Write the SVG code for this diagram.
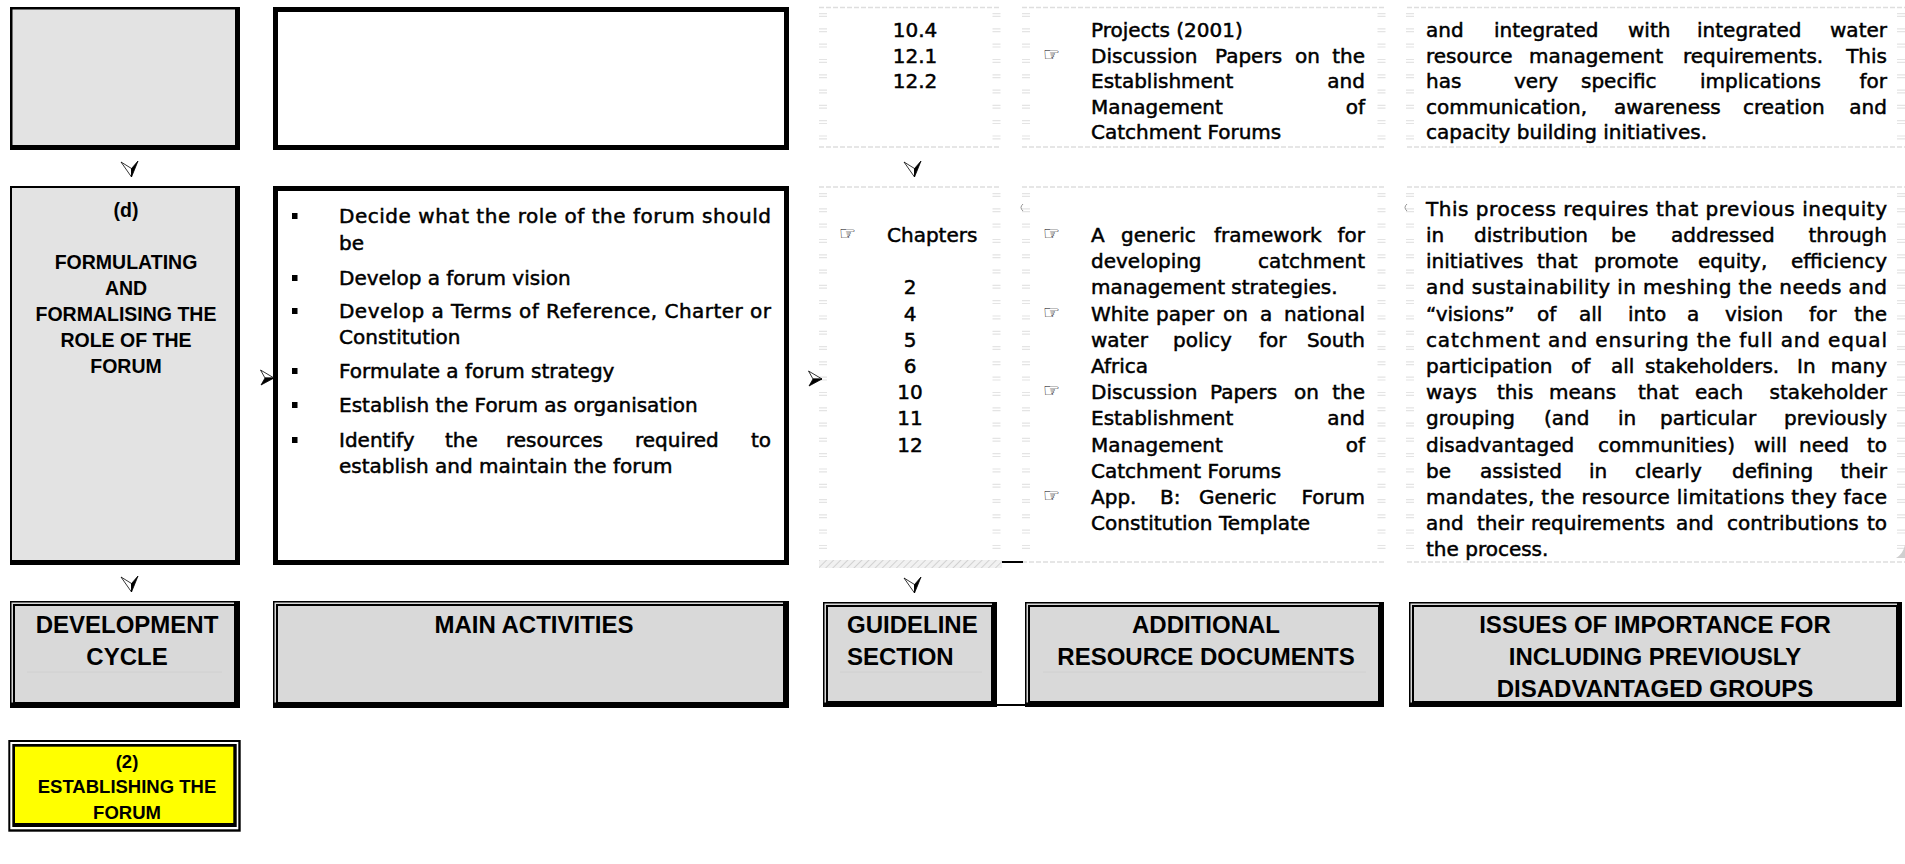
<svg xmlns="http://www.w3.org/2000/svg" width="1905" height="864" viewBox="0 0 1905 864">
<defs>
<style>
.t{font-family:"DejaVu Sans","Noto Sans",sans-serif;font-size:20px;fill:#000;stroke:#000;stroke-width:0.5}
.hd{font-family:"Liberation Sans",Arial,sans-serif;font-weight:bold;font-size:24px;fill:#000}
.st{font-family:"Liberation Sans",Arial,sans-serif;font-weight:bold;font-size:19.5px;fill:#000;text-anchor:middle}
.c{text-anchor:middle}
.e{text-anchor:end}
.hand{font-family:"DejaVu Sans",sans-serif;font-size:19px;fill:#000}
.rule{stroke:#dedede;stroke-width:1.5;stroke-dasharray:5 2;fill:none}
.ticks{stroke:#e4e4e4;stroke-width:8;stroke-dasharray:1.2 1.6 1.2 11.3;fill:none}
.faint{stroke:#d0d0d0;stroke-width:1}
.hfill{fill:#d9d9d9}
</style>
<g id="arrow-down">
  <path d="M-10.5,-15 L0,-8.5 L0,0 Z" fill="#fff" stroke="#000" stroke-width="0.8" stroke-linejoin="round"/>
  <path d="M0,-8.5 L6.5,-16 L0,0 Z" fill="#000" stroke="#000" stroke-width="0.8" stroke-linejoin="round"/>
</g>
<g id="arrow-right">
  <path d="M-13.5,-8 L0,0 L-9,0 Z" fill="#fff" stroke="#000" stroke-width="0.8" stroke-linejoin="round"/>
  <path d="M-9,0 L0,0 L-13,7 Z" fill="#000" stroke="#000" stroke-width="0.8" stroke-linejoin="round"/>
</g>
<pattern id="hatch" width="5" height="5" patternUnits="userSpaceOnUse" patternTransform="rotate(45)">
  <rect width="5" height="5" fill="#f1f1f1"/>
  <line x1="0" y1="0" x2="0" y2="5" stroke="#d2d2d2" stroke-width="2"/>
</pattern>
</defs>

<rect width="1905" height="864" fill="#fff"/>

<!-- stage boxes, development cycle column -->
<g id="stage-prev">
  <rect x="10" y="7" width="230" height="143" fill="#000"/>
  <rect x="12.5" y="9.5" width="222.5" height="135.5" fill="#e3e3e3"/>
</g>
<g id="stage-d">
  <rect x="10" y="186" width="230" height="379" fill="#000"/>
  <rect x="12" y="188" width="223" height="372" fill="#e3e3e3"/>
  <text class="st" x="126" y="217">(d)</text>
  <text class="st" x="126" y="269">FORMULATING</text>
  <text class="st" x="126" y="295">AND</text>
  <text class="st" x="126" y="321">FORMALISING THE</text>
  <text class="st" x="126" y="347">ROLE OF THE</text>
  <text class="st" x="126" y="373">FORUM</text>
</g>

<!-- main activities -->
<g id="activities-prev">
  <rect x="275.5" y="9.5" width="511" height="138" fill="#fff" stroke="#000" stroke-width="5"/>
</g>
<g id="activities-d">
  <rect x="275.5" y="188.5" width="511" height="374" fill="#fff" stroke="#000" stroke-width="5"/>
  <rect x="292" y="213" width="5.5" height="6"/>
  <rect x="292" y="275" width="5.5" height="6"/>
  <rect x="292" y="308" width="5.5" height="6"/>
  <rect x="292" y="368" width="5.5" height="6"/>
  <rect x="292" y="402" width="5.5" height="6"/>
  <rect x="292" y="437" width="5.5" height="6"/>
  <text class="t" x="339" y="223" textLength="432" lengthAdjust="spacing">Decide what the role of the forum should</text>
  <text class="t" x="339" y="250">be</text>
  <text class="t" x="339" y="285">Develop a forum vision</text>
  <text class="t" x="339" y="318" textLength="432" lengthAdjust="spacing">Develop a Terms of Reference, Charter or</text>
  <text class="t" x="339" y="344">Constitution</text>
  <text class="t" x="339" y="378">Formulate a forum strategy</text>
  <text class="t" x="339" y="412">Establish the Forum as organisation</text>
  <text class="t" y="447"><tspan x="339">Identify</tspan><tspan x="445">the</tspan><tspan x="506">resources</tspan><tspan x="635">required</tspan></text>
  <text class="t e" x="771" y="447">to</text>
  <text class="t" x="339" y="473">establish and maintain the forum</text>
</g>

<!-- light table cell frames for the three reference columns -->
<g id="cell-frames">
  <path class="rule" d="M819,7.5H1001 M1022,7.5H1386 M1407,7.5H1905 M819,147H1001 M1022,147H1386 M1407,147H1905 M819,187H1001 M1022,187H1386 M1407,187H1905 M1022,562H1386 M1407,562H1905"/>
  <path class="ticks" d="M823,13V146 M996.5,13V146 M1026,13V146 M1381.5,13V146 M1410,13V146 M1901,13V146"/>
  <path class="ticks" d="M823,193V558 M996.5,193V558 M1026,193V558 M1381.5,193V558 M1410,193V558 M1901,193V558"/>
  <rect x="819" y="560" width="183" height="8" fill="url(#hatch)"/>
  <line x1="1002" y1="562" x2="1023" y2="562" stroke="#000" stroke-width="2"/>
  <path d="M1023,204 Q1019,207.5 1023,211" fill="none" stroke="#888" stroke-width="0.9"/>
  <path d="M1407,204 Q1403,207.5 1407,211" fill="none" stroke="#888" stroke-width="0.9"/>
  <path d="M1905,545 L1905,558 L1896,558 Q1903,554 1905,545 Z" fill="#cfcfcf"/>
</g>

<!-- guideline sections -->
<g id="guideline-prev">
  <text class="t c" x="915" y="37">10.4</text>
  <text class="t c" x="915" y="62.5">12.1</text>
  <text class="t c" x="915" y="88">12.2</text>
</g>
<g id="guideline-d">
  <text class="hand" x="839" y="240">☞</text>
  <text class="t" x="887" y="242">Chapters</text>
  <text class="t c" x="910" y="294.4">2</text>
  <text class="t c" x="910" y="320.6">4</text>
  <text class="t c" x="910" y="346.8">5</text>
  <text class="t c" x="910" y="373">6</text>
  <text class="t c" x="910" y="399.2">10</text>
  <text class="t c" x="910" y="425.4">11</text>
  <text class="t c" x="910" y="451.6">12</text>
</g>

<!-- additional resource documents -->
<g id="resources-prev">
  <text class="t" x="1091" y="37">Projects (2001)</text>
  <text class="hand" x="1043" y="60.5">☞</text>
  <text class="t" y="62.5"><tspan x="1091">Discussion</tspan><tspan x="1215">Papers</tspan><tspan x="1295">on</tspan></text>
  <text class="t e" x="1365" y="62.5">the</text>
  <text class="t" x="1091" y="88">Establishment</text>
  <text class="t e" x="1365" y="88">and</text>
  <text class="t" x="1091" y="113.5">Management</text>
  <text class="t e" x="1365" y="113.5">of</text>
  <text class="t" x="1091" y="139">Catchment Forums</text>
</g>
<g id="resources-d">
  <text class="hand" x="1043" y="240">☞</text>
  <text class="t" y="242"><tspan x="1091">A</tspan><tspan x="1121">generic</tspan><tspan x="1214">framework</tspan></text>
  <text class="t e" x="1365" y="242">for</text>
  <text class="t" x="1091" y="268.2">developing</text>
  <text class="t e" x="1365" y="268.2">catchment</text>
  <text class="t" x="1091" y="294.4">management strategies.</text>
  <text class="hand" x="1043" y="318.6">☞</text>
  <text class="t" y="320.6"><tspan x="1091">White</tspan><tspan x="1156">paper</tspan><tspan x="1223">on</tspan><tspan x="1260">a</tspan></text>
  <text class="t e" x="1365" y="320.6">national</text>
  <text class="t" y="346.8"><tspan x="1091">water</tspan><tspan x="1173">policy</tspan><tspan x="1259">for</tspan></text>
  <text class="t e" x="1365" y="346.8">South</text>
  <text class="t" x="1091" y="373">Africa</text>
  <text class="hand" x="1043" y="397.2">☞</text>
  <text class="t" y="399.2"><tspan x="1091">Discussion</tspan><tspan x="1210">Papers</tspan><tspan x="1294">on</tspan></text>
  <text class="t e" x="1365" y="399.2">the</text>
  <text class="t" x="1091" y="425.4">Establishment</text>
  <text class="t e" x="1365" y="425.4">and</text>
  <text class="t" x="1091" y="451.6">Management</text>
  <text class="t e" x="1365" y="451.6">of</text>
  <text class="t" x="1091" y="477.8">Catchment Forums</text>
  <text class="hand" x="1043" y="502">☞</text>
  <text class="t" y="504"><tspan x="1091">App.</tspan><tspan x="1160">B:</tspan><tspan x="1199">Generic</tspan></text>
  <text class="t e" x="1365" y="504">Forum</text>
  <text class="t" x="1091" y="530.2">Constitution Template</text>
</g>

<!-- issues for previously disadvantaged groups -->
<g id="issues-prev">
  <text class="t" y="37"><tspan x="1426">and</tspan><tspan x="1494">integrated</tspan><tspan x="1628">with</tspan><tspan x="1697">integrated</tspan></text>
  <text class="t e" x="1887" y="37">water</text>
  <text class="t" y="62.5"><tspan x="1426">resource</tspan><tspan x="1529">management</tspan><tspan x="1683">requirements.</tspan></text>
  <text class="t e" x="1887" y="62.5">This</text>
  <text class="t" y="88"><tspan x="1426">has</tspan><tspan x="1514">very</tspan><tspan x="1581">specific</tspan><tspan x="1700">implications</tspan></text>
  <text class="t e" x="1887" y="88">for</text>
  <text class="t" y="113.5"><tspan x="1426">communication,</tspan><tspan x="1614">awareness</tspan><tspan x="1743">creation</tspan></text>
  <text class="t e" x="1887" y="113.5">and</text>
  <text class="t" x="1426" y="139">capacity building initiatives.</text>
</g>
<g id="issues-d">
  <text class="t" x="1426" y="215.8" textLength="461" lengthAdjust="spacing">This process requires that previous inequity</text>
  <text class="t" y="242"><tspan x="1426">in</tspan><tspan x="1474">distribution</tspan><tspan x="1611">be</tspan><tspan x="1671">addressed</tspan></text>
  <text class="t e" x="1887" y="242">through</text>
  <text class="t" y="268.2"><tspan x="1426">initiatives</tspan><tspan x="1537">that</tspan><tspan x="1594">promote</tspan><tspan x="1698">equity,</tspan></text>
  <text class="t e" x="1887" y="268.2">efficiency</text>
  <text class="t" x="1426" y="294.4" textLength="461" lengthAdjust="spacing">and sustainability in meshing the needs and</text>
  <text class="t" y="320.6"><tspan x="1426">“visions”</tspan><tspan x="1537">of</tspan><tspan x="1579">all</tspan><tspan x="1628">into</tspan><tspan x="1687">a</tspan><tspan x="1725">vision</tspan><tspan x="1809">for</tspan></text>
  <text class="t e" x="1887" y="320.6">the</text>
  <text class="t" x="1426" y="346.8" textLength="461" lengthAdjust="spacing">catchment and ensuring the full and equal</text>
  <text class="t" y="373"><tspan x="1426">participation</tspan><tspan x="1571">of</tspan><tspan x="1611">all</tspan><tspan x="1645">stakeholders.</tspan><tspan x="1797">In</tspan></text>
  <text class="t e" x="1887" y="373">many</text>
  <text class="t" y="399.2"><tspan x="1426">ways</tspan><tspan x="1497">this</tspan><tspan x="1549">means</tspan><tspan x="1638">that</tspan><tspan x="1695">each</tspan></text>
  <text class="t e" x="1887" y="399.2">stakeholder</text>
  <text class="t" y="425.4"><tspan x="1426">grouping</tspan><tspan x="1544">(and</tspan><tspan x="1618">in</tspan><tspan x="1660">particular</tspan></text>
  <text class="t e" x="1887" y="425.4">previously</text>
  <text class="t" y="451.6"><tspan x="1426">disadvantaged</tspan><tspan x="1598">communities)</tspan><tspan x="1754">will</tspan><tspan x="1799">need</tspan></text>
  <text class="t e" x="1887" y="451.6">to</text>
  <text class="t" y="477.8"><tspan x="1426">be</tspan><tspan x="1480">assisted</tspan><tspan x="1589">in</tspan><tspan x="1635">clearly</tspan><tspan x="1732">defining</tspan></text>
  <text class="t e" x="1887" y="477.8">their</text>
  <text class="t" x="1426" y="504" textLength="461" lengthAdjust="spacing">mandates, the resource limitations they face</text>
  <text class="t" y="530.2"><tspan x="1426">and</tspan><tspan x="1477">their</tspan><tspan x="1531">requirements</tspan><tspan x="1676">and</tspan><tspan x="1727">contributions</tspan></text>
  <text class="t e" x="1887" y="530.2">to</text>
  <text class="t" x="1426" y="556.4">the process.</text>
</g>

<!-- column headings -->
<g id="head-cycle">
  <rect class="hfill" x="10" y="601" width="230" height="107"/>
  <rect x="10.75" y="601.75" width="228.5" height="105.5" fill="none" stroke="#000" stroke-width="1.5"/>
  <rect x="14" y="605" width="221" height="98" fill="none" stroke="#000" stroke-width="2"/>
  <rect x="234" y="601" width="6" height="107"/>
  <rect x="10" y="702.5" width="230" height="5.5"/>
  <line class="faint" x1="27" y1="672" x2="222" y2="672"/>
  <text class="hd c" x="127" y="633">DEVELOPMENT</text>
  <text class="hd c" x="127" y="664.5">CYCLE</text>
</g>
<g id="head-activities">
  <rect class="hfill" x="273" y="601" width="516" height="107"/>
  <rect x="273.75" y="601.75" width="514.5" height="105.5" fill="none" stroke="#000" stroke-width="1.5"/>
  <rect x="277" y="605" width="507" height="98" fill="none" stroke="#000" stroke-width="2"/>
  <rect x="783" y="601" width="6" height="107"/>
  <rect x="273" y="702.5" width="516" height="5.5"/>
  <text class="hd c" x="534" y="633">MAIN ACTIVITIES</text>
</g>
<g id="head-guideline">
  <rect class="hfill" x="823" y="602" width="174" height="105"/>
  <rect x="823.75" y="602.75" width="172.5" height="103.5" fill="none" stroke="#000" stroke-width="1.5"/>
  <rect x="827" y="606" width="165" height="96" fill="none" stroke="#000" stroke-width="2"/>
  <rect x="992" y="602" width="5" height="105"/>
  <rect x="823" y="702.5" width="174" height="4.5"/>
  <line class="faint" x1="840" y1="672" x2="982" y2="672"/>
  <text class="hd" x="847" y="633">GUIDELINE</text>
  <text class="hd" x="847" y="665">SECTION</text>
</g>
<g id="head-resources">
  <rect class="hfill" x="1025" y="602" width="359" height="105"/>
  <rect x="1025.75" y="602.75" width="357.5" height="103.5" fill="none" stroke="#000" stroke-width="1.5"/>
  <rect x="1029" y="606" width="350" height="96" fill="none" stroke="#000" stroke-width="2"/>
  <rect x="1379" y="602" width="5" height="105"/>
  <rect x="1025" y="702.5" width="359" height="4.5"/>
  <line class="faint" x1="1043" y1="672" x2="1366" y2="672"/>
  <text class="hd c" x="1206" y="633">ADDITIONAL</text>
  <text class="hd c" x="1206" y="665">RESOURCE DOCUMENTS</text>
</g>
<g id="head-issues">
  <rect class="hfill" x="1409" y="602" width="493" height="105"/>
  <rect x="1409.75" y="602.75" width="491.5" height="103.5" fill="none" stroke="#000" stroke-width="1.5"/>
  <rect x="1413" y="606" width="484" height="96" fill="none" stroke="#000" stroke-width="2"/>
  <rect x="1897" y="602" width="5" height="105"/>
  <rect x="1409" y="702.5" width="493" height="4.5"/>
  <text class="hd c" x="1655" y="633">ISSUES OF IMPORTANCE FOR</text>
  <text class="hd c" x="1655" y="665">INCLUDING PREVIOUSLY</text>
  <text class="hd c" x="1655" y="697">DISADVANTAGED GROUPS</text>
</g>

<!-- current phase marker -->
<g id="phase-2">
  <rect x="8.3" y="740" width="232.4" height="91.7" fill="#000"/>
  <rect x="10.3" y="742" width="228" height="87.3" fill="#fff"/>
  <rect x="12.3" y="744" width="224.4" height="83" fill="#000"/>
  <rect x="15" y="746.7" width="218.3" height="76.3" fill="#ff0"/>
  <text class="st" x="127" y="768" style="font-size:18.5px">(2)</text>
  <text class="st" x="127" y="793" style="font-size:18.5px">ESTABLISHING THE</text>
  <text class="st" x="127" y="818.5" style="font-size:18.5px">FORUM</text>
</g>

<!-- flow arrows and connecting rules -->
<g id="connectors">
  <use href="#arrow-down" x="131.5" y="177"/>
  <use href="#arrow-down" x="131.5" y="592"/>
  <use href="#arrow-down" x="914.5" y="177"/>
  <use href="#arrow-down" x="914.5" y="593"/>
  <use href="#arrow-right" x="274" y="378"/>
  <use href="#arrow-right" x="822" y="379"/>
  <line x1="997" y1="705" x2="1025" y2="705" stroke="#000" stroke-width="2"/>
</g>
</svg>
